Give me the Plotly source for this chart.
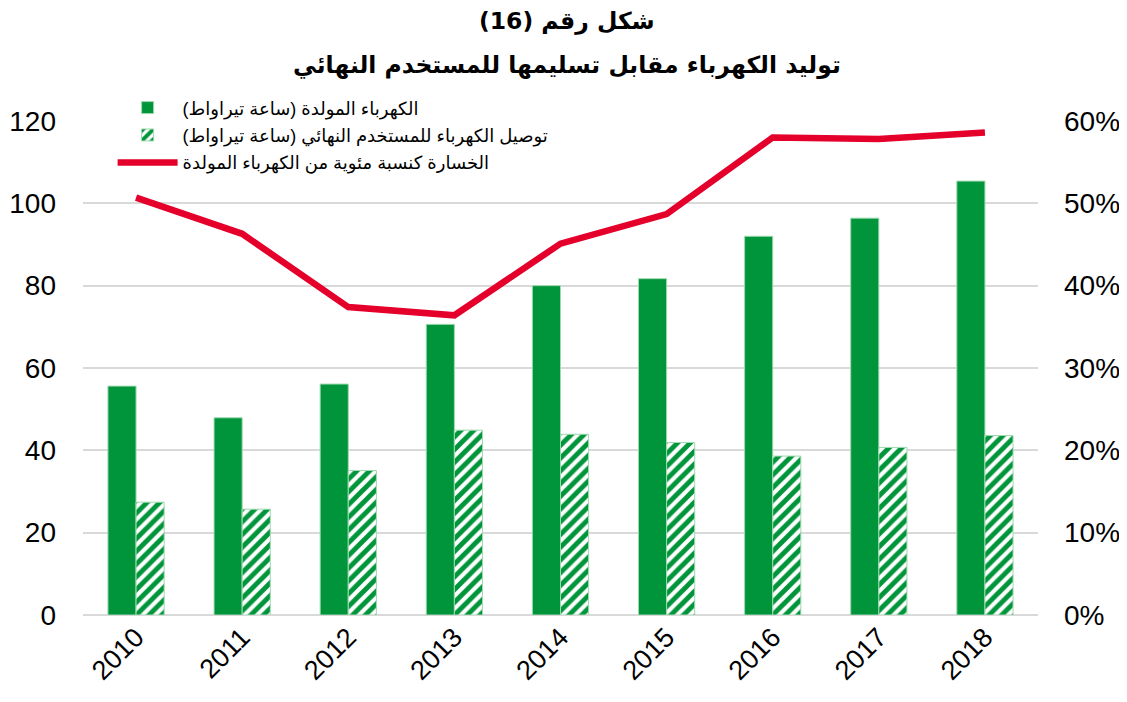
import plotly.graph_objects as go

years = ["2010", "2011", "2012", "2013", "2014", "2015", "2016", "2017", "2018"]
generated = [55.6, 47.9, 56.1, 70.6, 80.0, 81.7, 92.0, 96.4, 105.4]
delivered = [27.4, 25.7, 35.1, 44.9, 43.9, 41.9, 38.6, 40.7, 43.6]
loss_pct = [0.507, 0.463, 0.374, 0.364, 0.451, 0.487, 0.580, 0.578, 0.586]

name_gen = "الكهرباء المولدة (ساعة تيراواط)"
name_del = "توصيل الكهرباء للمستخدم النهائي (ساعة تيراواط)"
name_loss = "الخسارة كنسبة مئوية من الكهرباء المولدة"
title_line1 = "شكل رقم (16)"
title_line2 = "توليد الكهرباء مقابل تسليمها للمستخدم النهائي"

GREEN = "#00953A"
RED = "#E4002B"

fig = go.Figure()
fig.add_trace(go.Bar(
    x=years, y=generated, name=name_gen, legendgroup="g1",
    marker=dict(color=GREEN, line=dict(color="#9FD9B0", width=1)),
    offsetgroup="gen",
))
fig.add_trace(go.Bar(
    x=years, y=delivered, name=name_del, legendgroup="g2",
    marker=dict(color="white", line=dict(color="#9FD9B0", width=1),
                pattern=dict(shape="/", fgcolor=GREEN, bgcolor="white",
                             size=9, solidity=0.55, fillmode="replace")),
    offsetgroup="del",
))
fig.add_trace(go.Scatter(
    x=years, y=loss_pct, name=name_loss, yaxis="y2", legendgroup="g3",
    mode="lines", line=dict(color=RED, width=6.5),
))

# page body adds an 8px offset; margins compensate
fig.update_layout(
    width=1127, height=702,
    paper_bgcolor="white", plot_bgcolor="white",
    margin=dict(l=75, r=97, t=113, b=95),
    font=dict(family="Liberation Sans, Arial, DejaVu Sans", color="black"),
    barmode="group", bargap=0.47, bargroupgap=0,
    showlegend=True,
    legend=dict(x=0.031, y=1.064, xanchor="left", yanchor="top",
                bgcolor="rgba(0,0,0,0)", font=dict(size=18),
                traceorder="grouped", itemwidth=60,
                tracegroupgap=1),
    xaxis=dict(type="category", tickangle=-45, tickfont=dict(size=27),
               showgrid=False, showline=False, ticks="", automargin=False),
    yaxis=dict(range=[0, 120], dtick=20, tickfont=dict(size=28),
               showgrid=True, gridcolor="#D9D9D9", gridwidth=2,
               zeroline=True, zerolinecolor="#D9D9D9", zerolinewidth=2,
               ticks="", ticklabelstandoff=26, automargin=False),
    yaxis2=dict(range=[0, 0.6], dtick=0.1, tickformat=".0%", overlaying="y",
                side="right", tickfont=dict(size=28), showgrid=False,
                zeroline=False, ticks="", ticklabelstandoff=25, automargin=False),
    annotations=[
        dict(text="<b>" + title_line1 + "</b>", xref="paper", yref="paper",
             x=0.507, y=1.203, xanchor="center", yanchor="middle", showarrow=False,
             font=dict(size=23.5, family="DejaVu Sans", color="black")),
        dict(text="<b>" + title_line2 + "</b>", xref="paper", yref="paper",
             x=0.507, y=1.113, xanchor="center", yanchor="middle", showarrow=False,
             font=dict(size=23.5, family="DejaVu Sans", color="black")),
    ],
)

fig.write_html("out.html")
